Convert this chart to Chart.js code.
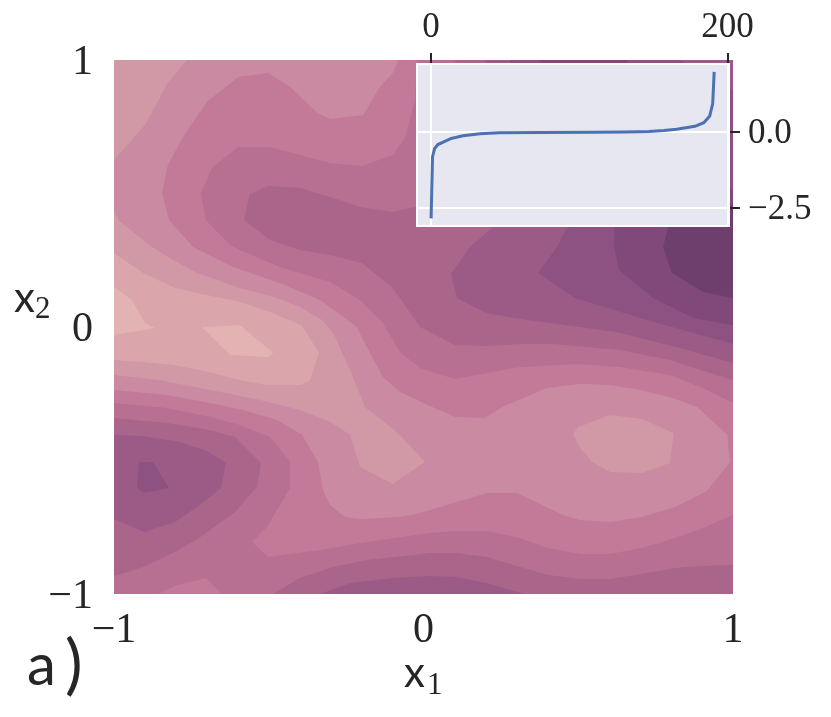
<!DOCTYPE html>
<html><head><meta charset="utf-8">
<script src="https://cdn.jsdelivr.net/npm/chart.js@4"></script>
<style>
html,body{margin:0;padding:0;background:#fff;width:831px;height:717px;overflow:hidden}
canvas{position:absolute;left:0;top:0}
.t{position:absolute;line-height:1;color:#262626;white-space:pre}
.s{font-family:"Lato",sans-serif}
.r{font-family:"Liberation Serif",serif}
</style></head><body>
<canvas id="main" width="831" height="717"></canvas>
<canvas id="inset" width="831" height="717"></canvas>
<div class="t s" style="left:404px;top:650px;font-size:42px">x</div>
<div class="t r" style="left:427px;top:668px;font-size:31px">1</div>
<div class="t s" style="left:14px;top:275px;font-size:42px">x</div>
<div class="t r" style="left:35px;top:292px;font-size:31px">2</div>
<div class="t s" style="left:27px;top:634px;font-size:58px">a</div>
<div class="t s" style="left:65px;top:629px;font-size:66px">)</div>
<script>
// Tick labels
const mainTicks = [-1, 0, 1];
const insetXTicks = [0, 200];
const insetYTicks = [-2.5, 0];

// Contour bands, flat [x1, x2, x1, x2, ...] in data units
const base = [-1,1, 1,1, 1,-1, -1,-1];
const dark5top = [-.021,1, 1,1, 1,-.285, .903,-.228, .796,-.180, .635,-.150, .496,-.139, .312,-.150, .205,-.172, .102,-.195, -.011,-.154, -.076,-.094, -.131,.015, -.205,.101, -.302,.169, -.464,.225, -.622,.303, -.703,.401, -.719,.502, -.683,.596, -.599,.674, -.496,.674, -.302,.614, -.199,.603, -.099,.644, -.060,.708, -.027,.850];
const dark5low = [-1,-.285, -.829,-.303, -.690,-.337, -.593,-.367, -.496,-.412, -.431,-.506, -.431,-.603, -.506,-.749, -.554,-.805, -.502,-.861, -.334,-.835, -.183,-.805, .021,-.772, .102,-.764, .205,-.764, .302,-.787, .402,-.828, .506,-.850, .603,-.850, .706,-.828, .813,-.790, .903,-.753, 1,-.704, 1,-1, -.654,-1, -.703,-.940, -.796,-.966, -.858,-1, -1,-1];
const dark6top = [.102,1, 1,1, 1,-.199, .796,-.124, .635,-.086, .528,-.075, .418,-.064, .312,-.064, .205,-.071, .102,-.067, -.011,0, -.099,.146, -.199,.240, -.302,.270, -.399,.288, -.496,.326, -.580,.401, -.561,.498, -.502,.528, -.399,.521, -.292,.483, -.205,.449, -.099,.431, -.027,.449, .05,.55, .09,.75];
const dark6low = [-1,-.341, -.829,-.360, -.690,-.386, -.609,-.412, -.525,-.509, -.538,-.599, -.609,-.693, -.722,-.787, -.803,-.843, -.906,-.899, -1,-.933];
const dark6bot = [-.486,-1, -.399,-.940, -.292,-.899, -.183,-.873, .021,-.846, .102,-.846, .205,-.861, .302,-.895, .402,-.929, .506,-.944, .603,-.944, .706,-.925, .813,-.903, .903,-.895, 1,-.891, 1,-1];
const dark7top = [.199,1, 1,1, 1,-.135, .851,-.086, .635,-.022, .528,-.004, .334,.026, .202,.052, .108,.109, .089,.199, .150,.300, .221,.371, .22,.6];
const dark7bot = [-.334,-1, -.237,-.959, -.099,-.940, .021,-.933, .102,-.936, .205,-.959, .328,-1];
const dark7low = [-1,-.404, -.906,-.408, -.787,-.431, -.700,-.464, -.638,-.509, -.654,-.603, -.722,-.667, -.803,-.730, -.903,-.768, -1,-.719];
const dark8top = [.279,1, .829,1, 1,.888, 1,-.064, .722,.026, .489,.109, .418,.165, .370,.202, .431,.300, .464,.375];
const dark8low = [-.919,-.506, -.874,-.506, -.822,-.603, -.903,-.622, -.926,-.603];
const dark9top = [.376,1, .657,1, .700,.850, .861,.663, 1,.513, 1,.007, .871,.034, .741,.109, .632,.213, .616,.300, .616,.375, .5,.6];
const dark10top = [.790,.375, .829,.494, 1,.457, 1,.109, .903,.131, .803,.202, .774,.300];
const light3 = [-1,1, -.082,1, -.099,.951, -.141,.899, -.195,.794, -.302,.779, -.344,.802, -.431,.899, -.502,.951, -.599,.936, -.700,.843, -.777,.712, -.826,.607, -.845,.502, -.822,.401, -.745,.300, -.616,.225, -.464,.165, -.334,.101, -.215,0, -.195,-.049, -.131,-.187, -.076,-.243, .021,-.296, .102,-.337, .199,-.341, .254,-.300, .399,-.228, .506,-.213, .603,-.217, .700,-.236, .796,-.262, .884,-.300, .981,-.404, .990,-.506, .916,-.614, .813,-.674, .706,-.712, .603,-.730, .506,-.723, .451,-.704, .302,-.622, .205,-.622, -.011,-.697, -.076,-.712, -.205,-.719, -.254,-.712, -.302,-.667, -.325,-.610, -.341,-.506, -.393,-.404, -.473,-.348, -.583,-.311, -.690,-.285, -.829,-.255, -1,-.236];
const light2corner = [-1,1, -.764,1, -.826,.914, -.900,.757, -1,.625];
const light2band = [-1,.438, -.987,.401, -.877,.300, -.809,.251, -.732,.202, -.593,.146, -.473,.109, -.399,.075, -.328,.026, -.292,-.022, -.237,-.161, -.189,-.300, -.082,-.397, .005,-.506, -.099,-.588, -.205,-.524, -.237,-.404, -.302,-.356, -.399,-.311, -.528,-.273, -.690,-.236, -.851,-.199, -1,-.180];
const light2right = [.603,-.330, .706,-.345, .809,-.397, .796,-.509, .706,-.547, .603,-.543, .544,-.506, .506,-.453, .483,-.401, .499,-.375];
const light1 = [-1,.277, -.906,.202, -.803,.146, -.700,.120, -.593,.094, -.496,.056, -.393,.007, -.338,-.097, -.367,-.199, -.399,-.217, -.506,-.217, -.593,-.199, -.690,-.169, -.809,-.142, -.906,-.131, -1,-.124];
const light0left = [-1,.150, -.942,.101, -.900,.015, -.868,-.004, -1,-.030];
const light0mid = [-.716,0, -.593,.007, -.486,-.097, -.502,-.112, -.625,-.105];

// Painted back to front
const bands = [base, dark5top, dark5low, dark6top, dark6low, dark6bot, dark7top, dark7bot, dark7low, dark8top, dark8low, dark9top, dark10top, light3, light2corner, light2band, light2right, light1, light0left, light0mid];
const bandColors = ['#c27a98','#b76f92','#b76f92','#aa658b','#aa658b','#aa658b','#9c5b87','#9c5b87','#9c5b87','#8e5282','#8e5282','#804979','#6e3f6c','#ca8aa2','#d198a6','#d198a6','#d198a6','#dba6ab','#e3b3b3','#e3b3b3'];

// Inset curve: sorted eigenvalues
const rankIndex = [0, 1, 2.4, 4.6, 13.6, 21.5, 33, 46, 75, 110, 130, 140, 147, 157, 165.6, 178, 184, 188, 190, 191];
const eigenvalues = [-2.84, -0.81, -0.54, -0.41, -0.21, -0.12, -0.056, -0.02, -0.01, -0.005, 0, 0.01, 0.02, 0.05, 0.09, 0.19, 0.31, 0.53, 0.94, 1.98];

const INK = '#262626';
const fmt = v => (Number.isInteger(v) ? String(v) : v.toFixed(1)).replace('-', '\u2212');
const fmtInset = v => (v === 0 ? '0.0' : fmt(v));

new Chart(document.getElementById('main'), {
  type: 'scatter',
  data: { datasets: bands.map((b, i) => {
    const pts = [];
    for (let k = 0; k < b.length; k += 2) pts.push({ x: b[k], y: b[k + 1] });
    pts.push({ x: b[0], y: b[1] });
    return { data: pts, showLine: true, fill: 'shape', tension: 0, pointRadius: 0,
      borderWidth: 0, backgroundColor: bandColors[i], borderColor: bandColors[i], order: bands.length - i };
  }) },
  options: {
    responsive: false, animation: false, devicePixelRatio: 1,
    layout: { padding: { left: 0, right: 98, top: 60, bottom: 0 } },
    plugins: { legend: { display: false }, tooltip: { enabled: false } },
    scales: {
      x: { type: 'linear', min: -1, max: 1,
        afterBuildTicks: s => { s.ticks = mainTicks.map(v => ({ value: v })); },
        afterFit: s => { s.height = 123; },
        grid: { display: false }, border: { display: false },
        ticks: { callback: fmt, color: INK, padding: 4, maxRotation: 0, autoSkip: false,
          font: { family: '"Liberation Serif", serif', size: 42 } } },
      y: { type: 'linear', min: -1, max: 1,
        afterBuildTicks: s => { s.ticks = mainTicks.map(v => ({ value: v })); },
        afterFit: s => { s.width = 114; },
        grid: { display: false }, border: { display: false },
        ticks: { callback: fmt, color: INK, padding: 13, autoSkip: false, labelOffset: 3,
          font: { family: '"Liberation Serif", serif', size: 42 } } }
    }
  }
});

new Chart(document.getElementById('inset'), {
  type: 'scatter',
  data: { datasets: [{ data: rankIndex.map((x, i) => ({ x, y: eigenvalues[i] })),
    showLine: true, tension: 0, pointRadius: 0, borderColor: '#4c72b0', borderWidth: 3, fill: false }] },
  options: {
    responsive: false, animation: false, devicePixelRatio: 1,
    layout: { padding: { left: 417, right: 0, top: 0, bottom: 491 } },
    plugins: { legend: { display: false }, tooltip: { enabled: false } },
    scales: {
      x: { type: 'linear', position: 'top', min: -9.5, max: 201,
        afterBuildTicks: s => { s.ticks = insetXTicks.map(v => ({ value: v })); },
        afterFit: s => { s.height = 64; },
        grid: { color: '#ffffff', lineWidth: 2, tickColor: INK, tickLength: 11, tickWidth: 2 },
        border: { display: false },
        ticks: { callback: fmt, color: INK, padding: 4, maxRotation: 0, autoSkip: false,
          font: { family: '"Liberation Serif", serif', size: 35 } } },
      y: { type: 'linear', position: 'right', min: -3.09, max: 2.24,
        afterBuildTicks: s => { s.ticks = insetYTicks.map(v => ({ value: v })); },
        afterFit: s => { s.width = 102; },
        grid: { color: '#ffffff', lineWidth: 2, tickColor: INK, tickLength: 11, tickWidth: 2 },
        border: { display: false },
        ticks: { callback: fmtInset, color: INK, padding: 8, autoSkip: false, labelOffset: 2,
          font: { family: '"Liberation Serif", serif', size: 35 } } }
    }
  },
  plugins: [{ id: 'panel',
    beforeDraw(c) {
      const a = c.chartArea, g = c.ctx;
      g.save(); g.fillStyle = '#e6e7f0';
      g.fillRect(a.left, a.top, a.right - a.left, a.bottom - a.top); g.restore();
    },
    afterDatasetsDraw(c) {
      const a = c.chartArea, g = c.ctx;
      g.save(); g.strokeStyle = '#ffffff'; g.lineWidth = 2;
      g.strokeRect(a.left, a.top, a.right - a.left, a.bottom - a.top); g.restore();
    } }]
});
</script>
</body></html>
